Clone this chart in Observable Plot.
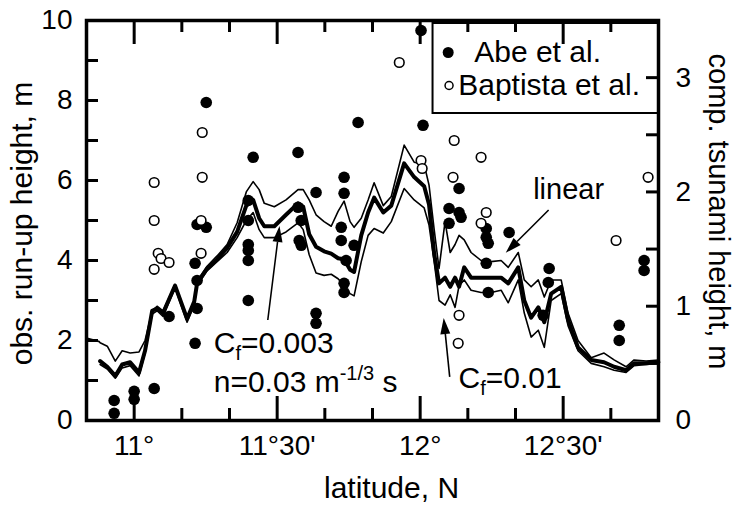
<!DOCTYPE html>
<html><head><meta charset="utf-8">
<script src="https://cdn.jsdelivr.net/npm/d3@7"></script>
<script src="https://cdn.jsdelivr.net/npm/@observablehq/plot@0.6"></script>
<style>body{margin:0;background:#fff}</style>
</head><body><div id="chart"></div>
<script>
// latitude (deg N) of the computed profiles
const latitude = [10.836,10.878,10.881,10.906,10.934,10.958,10.986,11.017,11.038,11.063,11.080,11.101,11.143,11.185,11.210,11.220,11.255,11.290,11.325,11.360,11.392,11.416,11.437,11.455,11.490,11.531,11.573,11.591,11.612,11.636,11.664,11.689,11.713,11.734,11.755,11.769,11.794,11.818,11.839,11.871,11.899,11.944,11.979,12.014,12.031,12.049,12.066,12.087,12.105,12.122,12.136,12.154,12.178,12.213,12.248,12.283,12.308,12.343,12.364,12.388,12.413,12.434,12.458,12.493,12.517,12.552,12.598,12.643,12.678,12.720,12.748,12.790,12.833];
// computed tsunami height, m (right axis)
const linear = [0.72,0.69,0.68,0.65,0.52,0.61,0.59,0.60,0.70,0.96,1.00,0.96,1.19,0.90,1.05,1.22,1.35,1.44,1.54,1.73,2.00,2.09,2.02,1.90,1.87,1.93,2.02,2.02,1.93,1.80,1.74,1.70,1.83,1.92,1.74,1.69,1.77,1.93,2.08,1.88,1.96,2.41,2.26,2.24,2.06,1.67,1.33,1.74,1.47,1.54,1.62,1.58,1.47,1.40,1.39,1.40,1.34,1.47,1.23,1.17,1.23,1.08,1.23,1.23,0.94,0.70,0.55,0.59,0.53,0.47,0.53,0.52,0.53];
const cf003 = [null,null,0.52,0.47,0.39,0.49,0.51,0.42,0.61,0.96,0.98,0.94,1.18,0.89,1.04,1.20,1.33,1.41,1.51,1.65,1.88,1.93,1.77,1.70,1.70,1.80,1.90,1.87,1.63,1.52,1.48,1.46,1.42,1.41,1.32,1.30,1.62,1.82,1.95,1.82,1.88,2.25,2.13,2.05,1.89,1.46,1.20,1.25,1.17,1.25,1.17,1.34,1.25,1.25,1.25,1.25,1.20,1.34,1.05,0.90,0.99,0.86,1.11,1.17,0.88,0.64,0.53,0.51,0.47,0.44,0.50,0.50,0.51];
const cf01 = [null,null,0.49,0.45,0.37,0.46,0.48,0.39,0.59,0.93,0.96,0.91,1.16,0.86,1.01,1.18,1.31,1.39,1.47,1.60,1.75,1.82,1.67,1.60,1.60,1.65,1.73,1.67,1.45,1.29,1.27,1.28,1.24,1.18,1.11,1.09,1.39,1.62,1.68,1.64,1.74,2.03,1.93,1.86,1.71,1.39,1.05,1.01,1.10,0.99,1.18,1.23,1.14,1.12,1.12,1.14,1.03,1.23,0.94,0.73,0.79,0.64,1.05,1.11,0.83,0.61,0.50,0.47,0.44,0.42,0.48,0.49,0.50];
// observed run-up heights, m (left axis)
const abeLat = [10.930,10.930,11.000,11.000,11.070,11.122,11.213,11.220,11.220,11.213,11.220,11.252,11.252,11.416,11.399,11.399,11.399,11.399,11.399,11.399,11.573,11.573,11.584,11.577,11.584,11.636,11.636,11.636,11.734,11.734,11.724,11.724,11.769,11.741,11.734,11.734,11.783,12.003,12.010,12.136,12.101,12.136,12.143,12.101,12.231,12.231,12.238,12.231,12.238,12.311,12.451,12.448,12.430,12.783,12.783,12.696,12.696];
const abeHeight = [0.50,0.18,0.73,0.53,0.80,2.60,1.93,2.80,3.50,3.93,4.90,4.83,7.95,6.58,5.50,5.00,4.40,4.25,4.00,3.00,6.70,5.33,5.00,4.50,4.38,5.70,2.68,2.43,6.08,5.68,4.83,4.50,4.38,4.00,3.43,3.20,7.45,9.75,7.38,5.80,5.30,5.20,5.08,4.93,4.80,4.58,4.43,3.93,3.20,4.70,3.80,3.45,2.63,4.00,3.75,2.38,2.00];
const baptistaLat = [11.070,11.070,11.084,11.094,11.122,11.070,11.238,11.238,11.234,11.234,11.927,12.003,12.007,12.119,12.213,12.115,12.231,12.213,12.136,12.133,12.685,12.797];
const baptistaHeight = [5.95,5.00,4.18,4.05,3.95,3.78,7.20,6.08,5.00,4.18,8.95,6.50,6.30,7.00,6.58,6.08,5.20,4.93,2.63,1.93,4.50,6.08];
const legendLabels = ["Abe et al.", "Baptista et al."];
const xMajor = [11, 11.5, 12, 12.5];
const xMinor = [11+1/6, 11+2/6, 11+4/6, 11+5/6, 12+1/6, 12+2/6, 12+4/6, 12+5/6];
const yLeftTicks = d3.range(0, 11);
const yLeftLabels = d3.range(0, 11, 2);
const yRightTicks = d3.range(0, 3.51, 0.5);
const yRightLabels = [0, 1, 2, 3];

const W = 737, H = 505, ML = 86, MR = 79, MT = 20, MB = 85;
const X0 = 10 + 50/60, X1 = 12 + 50/60, Y0 = 0, Y1 = 10;
const K = 10 / 3.5; // left units per right unit
// tick lengths (px) expressed in data units of the frame
const pxX = (X1 - X0) / (W - ML - MR), pxY = (Y1 - Y0) / (H - MT - MB);
const rows = (vals, s) => latitude.map((lat, i) => ({lat, h: vals[i], s}));
const abe = abeLat.map((lat, i) => ({lat, h: abeHeight[i]}));
const bap = baptistaLat.map((lat, i) => ({lat, h: baptistaHeight[i]}));
const fmtLat = d => { const deg = Math.floor(d + 1e-9); const m = Math.round((d - deg) * 60); return m ? `${deg}°${m}'` : `${deg}°`; };
const FONT = "'Liberation Sans', Arial, sans-serif";
const TICK = "black";

const plot = Plot.plot({
  width: W, height: H,
  marginLeft: ML, marginRight: MR, marginTop: MT, marginBottom: MB,
  style: {fontFamily: FONT, fontSize: "28px", background: "white"},
  x: {domain: [X0, X1]},
  y: {domain: [Y0, Y1]},
  marks: [
    Plot.line(rows(linear, "linear"), {x: "lat", y: d => d.h == null ? NaN : d.h * K, stroke: "black", strokeWidth: 1.6}),
    Plot.line(rows(cf01, "cf01"), {x: "lat", y: d => d.h == null ? NaN : d.h * K, stroke: "black", strokeWidth: 1.6}),
    Plot.line(rows(cf003, "cf003"), {x: "lat", y: d => d.h == null ? NaN : d.h * K, stroke: "black", strokeWidth: 4}),
    Plot.dot(abe, {x: "lat", y: "h", r: 5.8, fill: "black"}),
    Plot.dot(bap, {x: "lat", y: "h", r: 4.8, fill: "white", stroke: "black", strokeWidth: 1.6}),
    // legend
    Plot.rect([legendLabels], {x1: 12.045, x2: X1, y1: 7.675, y2: 9.925, fill: "white", stroke: "black", strokeWidth: 2}),
    Plot.dot([legendLabels[0]], {x: 12.098, y: 9.2, r: 5.5, fill: "black"}),
    Plot.dot([legendLabels[1]], {x: 12.101, y: 8.375, r: 4, fill: "white", stroke: "black", strokeWidth: 1.5}),
    Plot.text([legendLabels[0]], {x: 12.189, y: 9.2, text: d => d, textAnchor: "start", lineAnchor: "middle", fontSize: 30, fill: "black"}),
    Plot.text([legendLabels[1]], {x: 12.133, y: 8.375, text: d => d, textAnchor: "start", lineAnchor: "middle", fontSize: 30, fill: "black"}),
    Plot.text(["linear"], {x: 12.395, y: 5.55, text: d => d, textAnchor: "start", lineAnchor: "bottom", fontSize: 29, fill: "black"}),
    // inward ticks
    Plot.ruleY(yLeftTicks, {y: d => d, x1: X0, x2: X0 + 12 * pxX, stroke: TICK, strokeWidth: 3}),
    Plot.ruleY(yRightTicks, {y: d => d * K, x1: X1 - 12 * pxX, x2: X1, stroke: TICK, strokeWidth: 3}),
    Plot.ruleX(xMajor, {x: d => d, y1: Y0, y2: Y0 + 24 * pxY, stroke: TICK, strokeWidth: 3}),
    Plot.ruleX(xMajor, {x: d => d, y1: Y1 - 24 * pxY, y2: Y1, stroke: TICK, strokeWidth: 3}),
    Plot.ruleX(xMinor, {x: d => d, y1: Y0, y2: Y0 + 12 * pxY, stroke: TICK, strokeWidth: 3}),
    Plot.ruleX(xMinor, {x: d => d, y1: Y1 - 12 * pxY, y2: Y1, stroke: TICK, strokeWidth: 3}),
    Plot.frame({stroke: "black", strokeWidth: 3.5}),
    // tick labels
    Plot.axisY(yLeftLabels, {anchor: "left", tickSize: 0, tickPadding: 14, label: null, fontSize: 28, fill: "black"}),
    Plot.axisY(yRightLabels.map(v => v * K), {anchor: "right", tickSize: 0, tickPadding: 17, label: null, fontSize: 28, fill: "black", tickFormat: d => String(Math.round(d / K))}),
    Plot.axisX(xMajor, {anchor: "bottom", tickSize: 0, tickPadding: 15, label: null, fontSize: 28, fill: "black", tickFormat: fmtLat}),
    // axis titles
    Plot.text(["obs. run-up height, m"], {frameAnchor: "left", dx: -55, dy: 3, rotate: -90, text: d => d, textAnchor: "middle", lineAnchor: "bottom", fontSize: 30, fill: "black"}),
    Plot.text(["comp. tsunami height, m"], {frameAnchor: "right", dx: 50, dy: -9, rotate: 90, text: d => d, textAnchor: "middle", lineAnchor: "bottom", fontSize: 29, fill: "black"}),
    Plot.text(["latitude, N"], {frameAnchor: "bottom", dx: 19, dy: 77, text: d => d, textAnchor: "middle", lineAnchor: "bottom", fontSize: 30, fill: "black"})
  ]
});
document.getElementById("chart").append(plot);

// annotations placed through the plot's own scales
const sx = plot.scale("x"), sy = plot.scale("y");
const g = d3.select(plot).append("g").attr("font-family", FONT).attr("fill", "black").attr("text-anchor", "start");
const arrows = [
  {x1: 12.451, y1: 5.25, x2: 12.301, y2: 4.18},
  {x1: 11.469, y1: 2.5, x2: 11.510, y2: 4.85},
  {x1: 12.105, y1: 1.08, x2: 12.084, y2: 2.55}
];
for (const a of arrows) {
  const x0 = sx.apply(a.x1), y0 = sy.apply(a.y1), x1 = sx.apply(a.x2), y1 = sy.apply(a.y2);
  const ang = Math.atan2(y1 - y0, x1 - x0), L = 16, Wd = 5;
  const bx = x1 - L * Math.cos(ang), by = y1 - L * Math.sin(ang);
  g.append("line").attr("x1", x0).attr("y1", y0).attr("x2", bx).attr("y2", by).attr("stroke", "black").attr("stroke-width", 1.6);
  g.append("path").attr("d", `M${x1},${y1}L${bx - Wd * Math.sin(ang)},${by + Wd * Math.cos(ang)}L${bx + Wd * Math.sin(ang)},${by - Wd * Math.cos(ang)}Z`).attr("fill", "black");
}
const notes = [
  {lat: 11.28, h: 1.675, segs: [["C", 30, 0], ["f", 20, 7], ["=0.003", 30, -7]]},
  {lat: 11.28, h: 0.70, segs: [["n=0.03 m", 30, 0], ["-1/3", 20, -12], ["\u00a0s", 30, 12]]},
  {lat: 12.136, h: 0.80, segs: [["C", 30, 0], ["f", 20, 7], ["=0.01", 30, -7]]}
];
for (const n of notes) {
  const t = g.append("text").attr("x", sx.apply(n.lat)).attr("y", sy.apply(n.h));
  for (const [s, size, dy] of n.segs) t.append("tspan").attr("font-size", size).attr("dy", dy).text(s);
}
</script>
</body></html>
